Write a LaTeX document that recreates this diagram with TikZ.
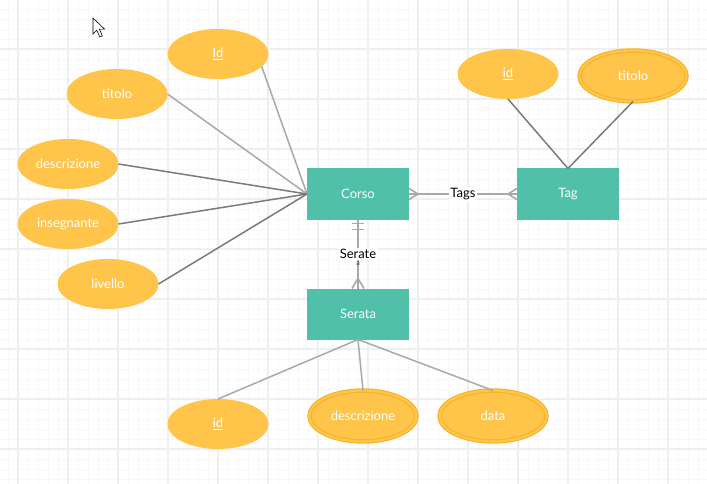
\documentclass[tikz,border=0pt]{standalone}
\usepackage{fontspec}
\setmainfont{Lato}
\usetikzlibrary{shapes.geometric,calc}

\definecolor{attrfill}{HTML}{FFC54B}
\definecolor{attrrim}{HTML}{F5B426}
\definecolor{entfill}{HTML}{50C0A8}
\definecolor{lineA}{HTML}{A9A9A9}
\definecolor{lineB}{HTML}{7B7B7B}
\definecolor{gridmajor}{HTML}{EFEFEF}
\definecolor{gridminor}{HTML}{F8F8F8}

\begin{document}
\begin{tikzpicture}[x=1pt,y=-1pt,
  font=\fontsize{13}{15}\selectfont,
  attr/.style={ellipse, fill=attrfill, text=white, minimum width=101pt,
    minimum height=50pt, inner sep=0pt, outer sep=0pt},
  multi/.style={attr, draw=attrrim, line width=1.1pt, double=attrfill,
    double distance=2.2pt, minimum width=107pt, minimum height=51pt},
  ent/.style={rectangle, fill=entfill, text=white, minimum width=102pt,
    minimum height=51pt, inner sep=0pt, outer sep=0pt},
  light/.style={draw=lineA, line width=1.5pt},
  dark/.style={draw=lineB, line width=1.5pt},
  rel/.style={draw=lineA, line width=1.6pt},
  lbl/.style={fill=white, text=black, inner sep=1.5pt}]

% canvas and grid
\useasboundingbox (0,0) rectangle (707,484);
\fill[white] (0,0) rectangle (707,484);
\foreach \x in {8,18,...,698} \draw[gridminor, line width=0.9pt] (\x,0) -- (\x,484);
\foreach \y in {9,19,...,479} \draw[gridminor, line width=0.9pt] (0,\y) -- (707,\y);
\foreach \x in {18,68,...,668} \draw[gridmajor, line width=1.4pt] (\x,0) -- (\x,484);
\foreach \y in {49,99,...,449} \draw[gridmajor, line width=1.4pt] (0,\y) -- (707,\y);

% mouse pointer
\draw[black, fill=white, line width=0.6pt, line join=miter]
  (93,18) -- (93,34) -- (96.8,30.2) -- (99.8,37) -- (102.4,35.9)
  -- (99.4,29.2) -- (104.6,29.2) -- cycle;

% entities
\node[ent] (corso) at (358,194) {Corso};
\node[ent] (tag) at (568,194) {Tag};
\node[ent] (serata) at (358,314) {Serata};

% attributes of Corso
\node[attr] (cid) at (218,54) {\underline{Id}};
\node[attr] (ctit) at (117,94) {titolo};
\node[attr] (cdesc) at (68,164) {descrizione};
\node[attr] (cins) at (68,224) {insegnante};
\node[attr] (cliv) at (108,284) {livello};

% attributes of Tag
\node[attr] (tid) at (508,74) {\underline{id}};
\node[multi] (ttit) at (633,76) {titolo};

% attributes of Serata
\node[attr] (sid) at (218,424) {\underline{id}};
\node[multi] (sdesc) at (363,416) {descrizione};
\node[multi] (sdata) at (493,416) {data};

% attribute links
\draw[light] (cid.-16) -- (corso.west);
\draw[light] (ctit.east) -- (corso.west);
\draw[dark] (cdesc.east) -- (corso.west);
\draw[dark] (cins.east) -- (corso.west);
\draw[dark] (cliv.east) -- (corso.west);
\draw[dark] (tid.south) -- (tag.north);
\draw[dark] (ttit.south) -- (tag.north);
\draw[light] (serata.south) -- (sid.north);
\draw[light] (serata.south) -- (sdesc.north);
\draw[light] (serata.south) -- (sdata.north);

% relationship Tags (many to many)
\draw[rel] (corso.east) -- node[lbl] (tags) {Tags} (tag.west);
\draw[rel] ($(corso.east)+(0,-5.5)$) -- ($(corso.east)+(9,0)$) -- ($(corso.east)+(0,5.5)$);
\draw[rel] ($(tag.west)+(0,-5.5)$) -- ($(tag.west)+(-9,0)$) -- ($(tag.west)+(0,5.5)$);

% relationship Serate (one to many)
\draw[rel] (corso.south) -- node[lbl] (serate) {Serate} (serata.north);
\node[text=black!75, inner sep=0pt, font=\fontsize{7}{8}\selectfont] (serateA) at (358,264) {a};
\draw[rel] ($(corso.south)+(-6,4)$) -- ($(corso.south)+(6,4)$);
\draw[rel] ($(corso.south)+(-6,10)$) -- ($(corso.south)+(6,10)$);
\draw[rel] ($(serata.north)+(-6,0)$) -- ($(serata.north)+(0,-10)$) -- ($(serata.north)+(6,0)$);
\end{tikzpicture}
\end{document}
